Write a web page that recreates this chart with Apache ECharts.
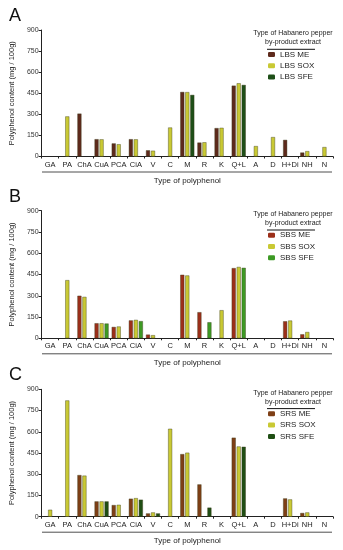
<!DOCTYPE html>
<html><head><meta charset="utf-8">
<script src="https://cdn.jsdelivr.net/npm/echarts@6/dist/echarts.min.js"></script>
<style>html,body{margin:0;padding:0;background:#fff}#c{width:343px;height:550px}</style>
</head><body><div id="c"></div>
<script>
const categories = ['GA','PA','ChA','CuA','PCA','CiA','V','C','M','R','K','Q+L','A','D','H+Di','NH','N'];
const yTicks = [0,150,300,450,600,750,900];

const lbsME  = [null,null,305,123,93,123,44,null,459,99,202,504,null,null,118,28,null];
const lbsSOX = [null,285,null,122,87,122,41,206,458,101,204,521,74,138,null,38,67];
const lbsSFE = [null,null,null,null,null,null,null,null,438,null,null,509,null,null,null,null,null];

const sbsME  = [null,null,300,106,80,126,26,null,448,184,null,495,null,null,120,28,null];
const sbsSOX = [null,410,292,106,83,130,22,null,443,null,198,503,null,null,125,44,null];
const sbsSFE = [null,null,null,104,null,121,null,null,null,113,null,497,null,null,null,null,null];

const srsME  = [null,null,294,108,82,127,23,null,442,228,null,558,null,null,129,26,null];
const srsSOX = [49,821,290,108,84,131,30,621,452,null,null,496,null,null,122,30,null];
const srsSFE = [null,null,null,108,null,120,23,null,null,64,null,494,null,null,null,null,null];

const panels = [
  {letter:'A', prefix:'LBS', data:[lbsME,lbsSOX,lbsSFE], colors:['#5e2a1c','#c9c934','#1e4f18'], top:30, h:126.5},
  {letter:'B', prefix:'SBS', data:[sbsME,sbsSOX,sbsSFE], colors:['#9c2f1a','#c9c934','#3d9a24'], top:210.7, h:127.6},
  {letter:'C', prefix:'SRS', data:[srsME,srsSOX,srsSFE], colors:['#7e3f16','#c9c934','#1f4e14'], top:389.3, h:127.4}
];
const types = ['ME','SOX','SFE'];
const FONT = 'Liberation Sans, Arial, sans-serif';

const grid=[], xAxis=[], yAxis=[], series=[], legend=[], graphic=[];
panels.forEach((p,i)=>{
  grid.push({left:40, width:293, top:p.top, height:p.h});
  xAxis.push({type:'category', gridIndex:i, data:categories,
    axisLine:{lineStyle:{color:'#222',width:1}},
    axisTick:{show:true,length:2,alignWithLabel:false,lineStyle:{color:'#222'}},
    axisLabel:{fontSize:7.5,color:'#222',margin:4,interval:0,fontFamily:FONT},
    name:'Type of polyphenol', nameLocation:'middle', nameGap:20,
    nameTextStyle:{fontSize:8,color:'#222',fontFamily:FONT}});
  yAxis.push({type:'value', gridIndex:i, min:0, max:900, interval:150,
    axisLine:{show:true,lineStyle:{color:'#222',width:1}},
    axisTick:{show:true,length:3,lineStyle:{color:'#222'}},
    splitLine:{show:false},
    axisLabel:{fontSize:7,color:'#333',margin:3,fontFamily:FONT},
    name:'Polyphenol content (mg / 100g)', nameLocation:'middle', nameGap:18,
    nameTextStyle:{fontSize:7.5,color:'#222',fontFamily:FONT}});
  const names=[];
  types.forEach((t,k)=>{
    const nm = p.prefix+' '+t; names.push(nm);
    series.push({type:'bar', name:nm, xAxisIndex:i, yAxisIndex:i, data:p.data[k],
      barWidth:4, barGap:'25%',
      itemStyle:{color:p.colors[k], borderColor:'#3a3a1a', borderWidth:0.4}});
  });
  legend.push({data:names, orient:'vertical', left:268, top:p.top+20, itemWidth:7, itemHeight:5,
    itemGap:2.3, textStyle:{fontSize:8,color:'#222',lineHeight:9,fontFamily:FONT}, padding:0, itemStyle:{borderWidth:0}});
  graphic.push({type:'text', left:9, top:p.top-23, style:{text:p.letter, fontSize:18, fill:'#111', fontFamily:FONT}});
  graphic.push({type:'text', x:293, y:p.top-1, style:{text:'Type of Habanero pepper\nby-product extract', fontSize:7, lineHeight:9, fill:'#222', align:'center', fontFamily:FONT}});
  graphic.push({type:'line', shape:{x1:267,y1:p.top+19.3,x2:315,y2:p.top+19.3}, style:{stroke:'#111',lineWidth:1}});
  graphic.push({type:'line', shape:{x1:42,y1:p.top+p.h+15.5,x2:332,y2:p.top+p.h+15.5}, style:{stroke:'#222',lineWidth:0.8}});
});

const chart = echarts.init(document.getElementById('c'), null, {renderer:'canvas'});
chart.setOption({animation:false, grid, xAxis, yAxis, series, legend, graphic});
</script></body></html>
